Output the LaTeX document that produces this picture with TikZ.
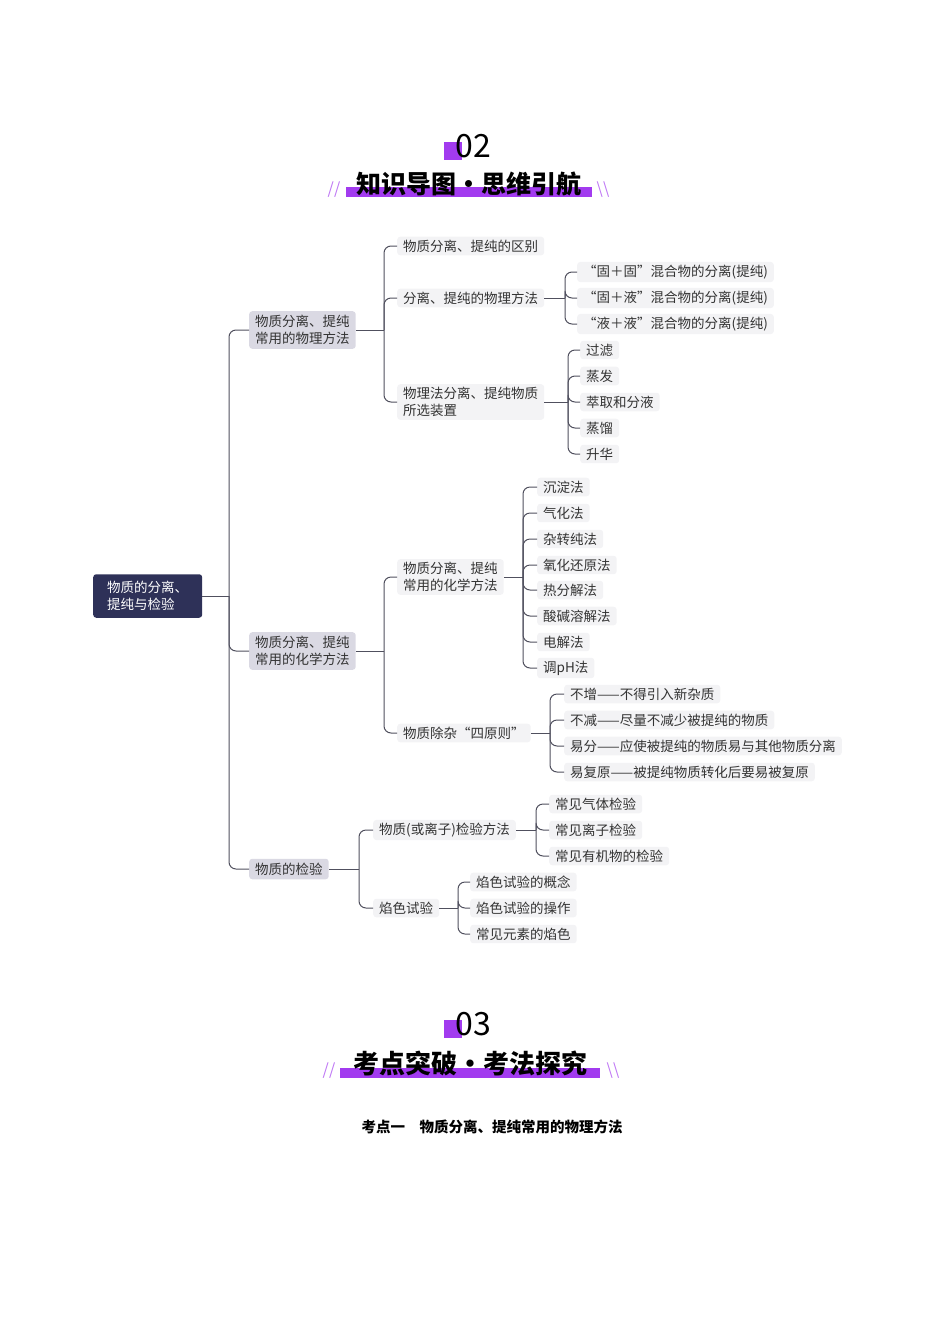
\documentclass[tikz,border=0pt]{standalone}
\usepackage{fontspec}
\setmainfont{Noto Sans CJK SC}
\usetikzlibrary{calc}
\definecolor{pur}{HTML}{A23BEF}
\definecolor{lin}{HTML}{50505E}
\definecolor{leaf}{HTML}{F3F3F5}
\definecolor{lone}{HTML}{DAD9E3}
\definecolor{navy}{HTML}{2E3158}
\definecolor{txt}{HTML}{333333}
\tikzset{
 base/.style={anchor=west,rounded corners=3pt,font=\fontsize{13.5}{17}\selectfont,text=txt,inner xsep=6pt,inner ysep=3pt,align=left},
 lf/.style={base,fill=leaf},
 l1/.style={base,fill=lone,inner ysep=4pt},
 rt/.style={base,fill=navy,text=white,inner xsep=14pt,inner ysep=7pt},
 conn/.style={draw=lin,line width=1pt}
}
\newcommand{\trunk}[3]{\draw[conn] (#1.east) -- (#2,0 |- #1.east);
 \foreach \c in {#3}{\draw[conn,rounded corners=7pt] (#2,0 |- #1.east) |- (\c.west);}}
\begin{document}
\begin{tikzpicture}[x=1pt,y=-1pt]
\useasboundingbox (0,0) rectangle (950,1344);
% header 02
\fill[pur] (444,142) rectangle (462,160);
\node[font=\fontsize{32}{32}\selectfont,anchor=center] (n02) at (473,146) {02};
\fill[pur] (346,187) rectangle (592,197);
\node[font=\fontsize{25}{25}\selectfont\bfseries,anchor=center] (t02) at (469,184) {知识导图·思维引航};
\node[text=pur!70,font=\fontsize{16}{16}\selectfont\itshape] (s1) at (334,190) {//};
\node[text=pur!70,font=\fontsize{16}{16}\selectfont\itshape] (s2) at (603,190) {\textbackslash\textbackslash};
% root
\node[rt] (root) at (93,596) {物质的分离、\\提纯与检验};
\node[l1] (A) at (249,330) {物质分离、提纯\\常用的物理方法};
\node[l1] (B) at (249,651) {物质分离、提纯\\常用的化学方法};
\node[l1] (C) at (249,869) {物质的检验};
\trunk{root}{229}{A,B,C}
% phys
\node[lf] (A1) at (397,246) {物质分离、提纯的区别};
\node[lf] (A2) at (397,298) {分离、提纯的物理方法};
\node[lf] (A3) at (397,402) {物理法分离、提纯物质\\所选装置};
\trunk{A}{384}{A1,A2,A3}
\node[lf] (A21) at (577,272) {“固＋固”混合物的分离(提纯)};
\node[lf] (A22) at (577,298) {“固＋液”混合物的分离(提纯)};
\node[lf] (A23) at (577,324) {“液＋液”混合物的分离(提纯)};
\trunk{A2}{565}{A21,A22,A23}
\node[lf] (A31) at (580,350) {过滤};
\node[lf] (A32) at (580,376) {蒸发};
\node[lf] (A33) at (580,402) {萃取和分液};
\node[lf] (A34) at (580,428) {蒸馏};
\node[lf] (A35) at (580,454) {升华};
\trunk{A3}{568}{A31,A32,A33,A34,A35}
% chem
\node[lf] (B1) at (397,577) {物质分离、提纯\\常用的化学方法};
\node[lf] (B2) at (397,733) {物质除杂“四原则”};
\trunk{B}{384}{B1,B2}
\node[lf] (B11) at (537,487) {沉淀法};
\node[lf] (B12) at (537,513) {气化法};
\node[lf] (B13) at (537,539) {杂转纯法};
\node[lf] (B14) at (537,565) {氧化还原法};
\node[lf] (B15) at (537,590) {热分解法};
\node[lf] (B16) at (537,616) {酸碱溶解法};
\node[lf] (B17) at (537,642) {电解法};
\node[lf] (B18) at (537,668) {调pH法};
\trunk{B1}{523}{B11,B12,B13,B14,B15,B16,B17,B18}
\node[lf] (B21) at (564,694) {不增——不得引入新杂质};
\node[lf] (B22) at (564,720) {不减——尽量不减少被提纯的物质};
\node[lf] (B23) at (564,746) {易分——应使被提纯的物质易与其他物质分离};
\node[lf] (B24) at (564,772) {易复原——被提纯物质转化后要易被复原};
\trunk{B2}{550}{B21,B22,B23,B24}
% test
\node[lf] (C1) at (373,830) {物质(或离子)检验方法};
\node[lf] (C2) at (373,908) {焰色试验};
\trunk{C}{359}{C1,C2}
\node[lf] (C11) at (549,804) {常见气体检验};
\node[lf] (C12) at (549,830) {常见离子检验};
\node[lf] (C13) at (549,856) {常见有机物的检验};
\trunk{C1}{536}{C11,C12,C13}
\node[lf] (C21) at (470,882) {焰色试验的概念};
\node[lf] (C22) at (470,908) {焰色试验的操作};
\node[lf] (C23) at (470,934) {常见元素的焰色};
\trunk{C2}{458}{C21,C22,C23}
% header 03
\fill[pur] (444,1020) rectangle (462,1038);
\node[font=\fontsize{32}{32}\selectfont,anchor=center] (n03) at (473,1024) {03};
\fill[pur] (340,1068) rectangle (600,1078);
\node[font=\fontsize{26}{26}\selectfont\bfseries,anchor=center] (t03) at (470,1063) {考点突破·考法探究};
\node[text=pur!70,font=\fontsize{16}{16}\selectfont\itshape] (s3) at (329,1071) {//};
\node[text=pur!70,font=\fontsize{16}{16}\selectfont\itshape] (s4) at (613,1071) {\textbackslash\textbackslash};
\node[font=\fontsize{14.5}{15}\selectfont\bfseries,anchor=center] (sub) at (492,1127) {考点一\quad 物质分离、提纯常用的物理方法};
\end{tikzpicture}
\end{document}
